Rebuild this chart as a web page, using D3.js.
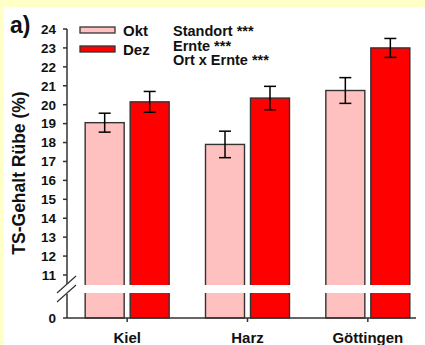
<!DOCTYPE html>
<html>
<head>
<meta charset="utf-8">
<script src="https://cdn.jsdelivr.net/npm/d3@7"></script>
<style>
  html, body { margin: 0; padding: 0; background: #ffffc8; }
  svg { display: block; font-family: "Liberation Sans", Arial, sans-serif; font-weight: bold; }
</style>
</head>
<body>
<svg id="chart" width="425" height="345"></svg>
<script>
// Data
const sites = ['Kiel', 'Harz', 'Göttingen'];
const harvests = ['Okt', 'Dez'];
const oktValues = [19.05, 17.9, 20.75];
const oktErrors = [0.5, 0.7, 0.68];
const dezValues = [20.15, 20.35, 23.0];
const dezErrors = [0.55, 0.62, 0.5];
const yTicksTop = [11, 12, 13, 14, 15, 16, 17, 18, 19, 20, 21, 22, 23, 24];
const yTicksBottom = [0];
const stats = ['Standort ***', 'Ernte ***', 'Ort x Ernte ***'];

const colors = { Okt: '#ffc0c0', Dez: '#ff0000' };
const strokeCol = '#333';

const svg = d3.select('#chart');
const axisX0 = 67, axisX1 = 416, axisY = 318;
const breakY = [285, 293];

// white panel
svg.append('rect').attr('x', 4).attr('y', 7).attr('width', 421).attr('height', 338).attr('fill', '#fff');

// Scales (broken y axis)
const yTop = d3.scaleLinear().domain([11, 24]).range([275, 29]);
const yBot = d3.scaleLinear().domain([0, 11]).range([axisY, 275]);
const y = v => v >= 11 ? yTop(v) : yBot(v);

const x0 = d3.scaleBand().domain(sites).range([67, 428]).padding(0);
const x1 = d3.scaleBand().domain(harvests).range([-42, 42]).paddingInner(0.1333);

const rows = sites.map((s, i) => ({
    site: s,
    bars: [
        { key: 'Okt', value: oktValues[i], err: oktErrors[i] },
        { key: 'Dez', value: dezValues[i], err: dezErrors[i] }
    ]
}));

const g = svg.append('g');

// Bars
for (const r of rows) {
    const cx = x0(r.site) + x0.bandwidth() / 2;
    for (const b of r.bars) {
        const bx = cx + x1(b.key);
        g.append('rect')
            .attr('x', bx).attr('y', y(b.value))
            .attr('width', x1.bandwidth()).attr('height', y(0) - y(b.value))
            .attr('fill', colors[b.key]).attr('stroke', strokeCol).attr('stroke-width', 1.4);
    }
}

// Break band
g.append('rect')
    .attr('x', axisX0 - 1).attr('y', breakY[0])
    .attr('width', axisX1 - axisX0 + 4).attr('height', breakY[1] - breakY[0])
    .attr('fill', '#fff');

// Error bars
for (const r of rows) {
    const cx = x0(r.site) + x0.bandwidth() / 2;
    for (const b of r.bars) {
        const ex = cx + x1(b.key) + x1.bandwidth() / 2;
        const eg = g.append('g').attr('stroke', '#000').attr('stroke-width', 1.5);
        eg.append('line').attr('x1', ex).attr('x2', ex)
            .attr('y1', y(b.value + b.err)).attr('y2', y(b.value - b.err));
        for (const v of [b.value + b.err, b.value - b.err]) {
            eg.append('line').attr('x1', ex - 6).attr('x2', ex + 6)
                .attr('y1', y(v)).attr('y2', y(v));
        }
    }
}

// Y axis (two segments)
const axisG = g.append('g').attr('stroke', strokeCol).attr('stroke-width', 1.5);
axisG.append('line').attr('x1', axisX0).attr('x2', axisX0).attr('y1', y(24)).attr('y2', breakY[0] - 1);
axisG.append('line').attr('x1', axisX0).attr('x2', axisX0).attr('y1', breakY[1] + 1).attr('y2', axisY);
axisG.append('line').attr('x1', axisX0).attr('x2', axisX1).attr('y1', axisY).attr('y2', axisY);

for (const t of yTicksTop.concat(yTicksBottom)) {
    axisG.append('line').attr('x1', axisX0 - 4).attr('x2', axisX0).attr('y1', y(t)).attr('y2', y(t));
    g.append('text')
        .attr('x', 56).attr('y', y(t)).attr('dy', '0.36em')
        .attr('text-anchor', 'end').attr('font-size', 13.5).attr('fill', '#111')
        .text(t);
}

// Break marks
for (const off of [0, 9]) {
    axisG.append('line')
        .attr('x1', 57).attr('y1', 293 + off)
        .attr('x2', 76).attr('y2', 276 + off)
        .attr('stroke-width', 1.2);
}

// X ticks + labels
for (const s of sites) {
    const cx = x0(s) + x0.bandwidth() / 2;
    axisG.append('line').attr('x1', cx).attr('x2', cx).attr('y1', axisY).attr('y2', axisY + 4);
    g.append('text')
        .attr('x', cx).attr('y', 343)
        .attr('text-anchor', 'middle').attr('font-size', 15).attr('fill', '#111')
        .text(s);
}

// Y label
g.append('text')
    .attr('transform', 'translate(25,173) rotate(-90)')
    .attr('text-anchor', 'middle').attr('font-size', 17.5).attr('fill', '#111')
    .text('TS-Gehalt Rübe (%)');

// Panel letter
g.append('text').attr('x', 10).attr('y', 33)
    .attr('font-size', 23).attr('fill', '#111').text('a)');

// Legend
harvests.forEach((h, i) => {
    const ly = 30 + i * 19;
    g.append('rect').attr('x', 80).attr('y', ly - 3).attr('width', 35).attr('height', 6)
        .attr('fill', colors[h]).attr('stroke', strokeCol).attr('stroke-width', 1.3);
    g.append('text').attr('x', 123).attr('y', ly + 6)
        .attr('font-size', 15).attr('fill', '#111').text(h);
});

// Statistics
stats.forEach((s, i) => {
    g.append('text').attr('x', 173).attr('y', 36 + i * 14.5)
        .attr('font-size', 14.5).attr('fill', '#111').text(s);
});
</script>
</body>
</html>
